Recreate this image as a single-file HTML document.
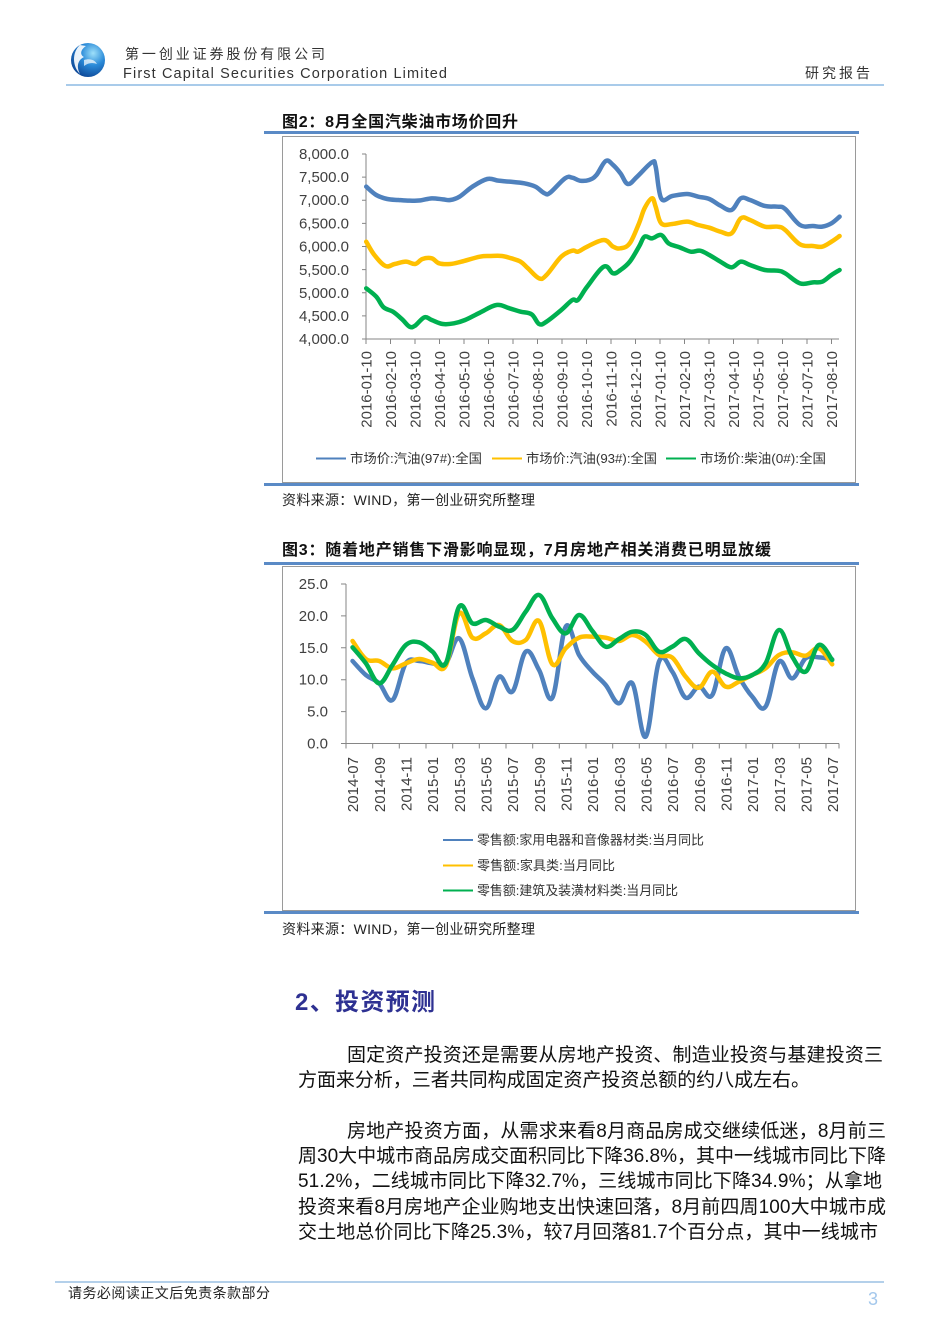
<!DOCTYPE html>
<html><head><meta charset="utf-8"><style>
html,body{margin:0;padding:0;background:#fff;}
svg{display:block;}
text{font-family:"Liberation Sans","Noto Sans CJK SC",sans-serif;}
</style></head><body>
<svg width="950" height="1344" viewBox="0 0 950 1344" xmlns="http://www.w3.org/2000/svg">
<defs>
<radialGradient id="lg" cx="0.65" cy="0.3" r="0.8">
<stop offset="0" stop-color="#9ee0fa"/><stop offset="0.45" stop-color="#2a8ad8"/><stop offset="1" stop-color="#0a3f8f"/>
</radialGradient>
</defs>
<!-- header -->
<circle cx="88" cy="60" r="17" fill="url(#lg)"/>
<path d="M80,45 C72,52 72,66 80,74 C76,66 78,60 84,57 C80,55 80,50 86,46 Z" fill="#fff" opacity="0.9"/>
<path d="M84,60 C90,58 95,60 97,64 C92,62 88,63 84,66 Z" fill="#fff" opacity="0.7"/>
<text x="125" y="59" font-size="14" fill="#333" textLength="200" lengthAdjust="spacing">第一创业证券股份有限公司</text>
<text x="123" y="78" font-size="14.5" fill="#333" textLength="324" lengthAdjust="spacing">First Capital Securities Corporation Limited</text>
<text x="805" y="78" font-size="14" fill="#333" textLength="65" lengthAdjust="spacing">研究报告</text>
<line x1="66" y1="85" x2="884" y2="85" stroke="#a9cbea" stroke-width="2"/>

<!-- chart 1 -->
<text x="282" y="127" font-size="16" font-weight="bold" fill="#111" textLength="236" lengthAdjust="spacing">图2：8月全国汽柴油市场价回升</text>
<line x1="264" y1="132.5" x2="859" y2="132.5" stroke="#5a8ac6" stroke-width="3"/>
<rect x="282.5" y="136.5" width="573" height="346" fill="none" stroke="#9a9a9a" stroke-width="1"/>
<line x1="264" y1="484.5" x2="859" y2="484.5" stroke="#5a8ac6" stroke-width="3"/>
<g font-size="15" fill="#404040" text-anchor="end">
<text x="349" y="344">4,000.0</text>
<text x="349" y="321">4,500.0</text>
<text x="349" y="298">5,000.0</text>
<text x="349" y="275">5,500.0</text>
<text x="349" y="251.5">6,000.0</text>
<text x="349" y="228.5">6,500.0</text>
<text x="349" y="205">7,000.0</text>
<text x="349" y="182">7,500.0</text>
<text x="349" y="159">8,000.0</text>
</g>
<g stroke="#868686" stroke-width="1" fill="none">
<path d="M366,154V339H839"/>
<path d="M362,339H366M362,315.9H366M362,292.75H366M362,269.6H366M362,246.5H366M362,223.4H366M362,200.25H366M362,177.1H366M362,154H366"/>
<path d="M366,339v5M390.5,339v5M415,339v5M439.5,339v5M464,339v5M488.5,339v5M513,339v5M537.5,339v5M562,339v5M586.5,339v5M611,339v5M635.5,339v5M660,339v5M684.5,339v5M709,339v5M733.5,339v5M758,339v5M782.5,339v5M807,339v5M831.5,339v5"/>
</g>
<g font-size="15" fill="#404040" text-anchor="end">
<text transform="translate(371.5,351) rotate(-90)">2016-01-10</text>
<text transform="translate(396,351) rotate(-90)">2016-02-10</text>
<text transform="translate(420.5,351) rotate(-90)">2016-03-10</text>
<text transform="translate(445,351) rotate(-90)">2016-04-10</text>
<text transform="translate(469.5,351) rotate(-90)">2016-05-10</text>
<text transform="translate(494,351) rotate(-90)">2016-06-10</text>
<text transform="translate(518.5,351) rotate(-90)">2016-07-10</text>
<text transform="translate(543,351) rotate(-90)">2016-08-10</text>
<text transform="translate(567.5,351) rotate(-90)">2016-09-10</text>
<text transform="translate(592,351) rotate(-90)">2016-10-10</text>
<text transform="translate(616.5,351) rotate(-90)">2016-11-10</text>
<text transform="translate(641,351) rotate(-90)">2016-12-10</text>
<text transform="translate(665.5,351) rotate(-90)">2017-01-10</text>
<text transform="translate(690,351) rotate(-90)">2017-02-10</text>
<text transform="translate(714.5,351) rotate(-90)">2017-03-10</text>
<text transform="translate(739,351) rotate(-90)">2017-04-10</text>
<text transform="translate(763.5,351) rotate(-90)">2017-05-10</text>
<text transform="translate(788,351) rotate(-90)">2017-06-10</text>
<text transform="translate(812.5,351) rotate(-90)">2017-07-10</text>
<text transform="translate(837,351) rotate(-90)">2017-08-10</text>
</g>
<g transform="translate(280,130) scale(0.3701,0.33333)" fill="none" stroke-linejoin="round" stroke-linecap="round">
<polyline class="s" vector-effect="non-scaling-stroke" stroke="#4f81bd" stroke-width="4.5" points="233,170 260,195 290,207 320,210 350,212 380,211 410,205 440,208 460,210 485,200 520,170 560,147 590,152 620,155 660,160 690,170 715,190 730,188 770,145 790,143 810,152 835,150 855,135 880,93 900,105 920,130 940,162 965,140 1005,97 1015,110 1030,205 1060,198 1100,192 1130,200 1160,207 1190,227 1220,240 1245,205 1270,210 1310,228 1345,230 1365,237 1405,285 1440,288 1465,290 1490,280 1512,260"/>
<polyline class="s" vector-effect="non-scaling-stroke" stroke="#ffc000" stroke-width="4.5" points="233,335 255,375 285,408 310,402 340,395 365,402 385,387 410,385 430,400 460,402 490,395 540,380 570,378 600,378 625,385 650,395 670,415 700,445 720,435 760,380 790,362 805,365 830,350 875,330 900,350 920,355 945,340 970,280 985,235 1005,205 1015,230 1030,280 1060,282 1100,275 1130,285 1160,293 1190,305 1220,310 1245,265 1270,270 1310,290 1345,290 1365,300 1405,343 1440,348 1465,350 1490,335 1512,318"/>
<polyline class="s" vector-effect="non-scaling-stroke" stroke="#00b050" stroke-width="4.5" points="233,475 260,500 280,532 305,545 330,568 350,590 365,587 390,562 410,570 440,582 470,580 500,570 540,548 585,525 620,535 650,545 680,553 700,582 720,575 760,540 790,510 805,510 830,470 875,410 900,430 920,420 945,395 970,350 985,320 1005,325 1030,315 1050,340 1080,352 1110,365 1135,362 1160,375 1190,395 1220,412 1245,395 1270,405 1310,420 1345,422 1365,430 1405,460 1440,457 1465,455 1490,435 1512,420"/>
</g>
<g font-size="13" fill="#333">
<line x1="316" y1="458.5" x2="346" y2="458.5" stroke="#4f81bd" stroke-width="2"/>
<text x="350" y="463" textLength="132" lengthAdjust="spacingAndGlyphs">市场价:汽油(97#):全国</text>
<line x1="492" y1="458.5" x2="522" y2="458.5" stroke="#ffc000" stroke-width="2"/>
<text x="526" y="463" textLength="131" lengthAdjust="spacingAndGlyphs">市场价:汽油(93#):全国</text>
<line x1="666" y1="458.5" x2="696" y2="458.5" stroke="#00b050" stroke-width="2"/>
<text x="700" y="463" textLength="126" lengthAdjust="spacingAndGlyphs">市场价:柴油(0#):全国</text>
</g>
<text x="282" y="505" font-size="14" fill="#222" textLength="253" lengthAdjust="spacing">资料来源：WIND，第一创业研究所整理</text>

<!-- chart 2 -->
<text x="282" y="555" font-size="16" font-weight="bold" fill="#111" textLength="489" lengthAdjust="spacing">图3：随着地产销售下滑影响显现，7月房地产相关消费已明显放缓</text>
<line x1="264" y1="563.5" x2="859" y2="563.5" stroke="#5a8ac6" stroke-width="3"/>
<rect x="282.5" y="566.5" width="573" height="344" fill="none" stroke="#9a9a9a" stroke-width="1"/>
<line x1="264" y1="912.5" x2="859" y2="912.5" stroke="#5a8ac6" stroke-width="3"/>
<g font-size="15" fill="#404040" text-anchor="end">
<text x="328" y="748.5">0.0</text>
<text x="328" y="716.6">5.0</text>
<text x="328" y="684.7">10.0</text>
<text x="328" y="652.8">15.0</text>
<text x="328" y="620.9">20.0</text>
<text x="328" y="589">25.0</text>
</g>
<g stroke="#868686" stroke-width="1" fill="none">
<path d="M346,584V743.5H839"/>
<path d="M341,743.5H346M341,711.6H346M341,679.7H346M341,647.8H346M341,615.9H346M341,584H346"/>
<path d="M346,743.5v5M372.7,743.5v5M399.3,743.5v5M426,743.5v5M452.7,743.5v5M479.3,743.5v5M506,743.5v5M532.7,743.5v5M559.3,743.5v5M586,743.5v5M612.7,743.5v5M639.3,743.5v5M666,743.5v5M692.7,743.5v5M719.3,743.5v5M746,743.5v5M772.7,743.5v5M799.3,743.5v5M826,743.5v5M839,743.5v5"/>
</g>
<g font-size="15" fill="#404040" text-anchor="end">
<text transform="translate(358.2,757) rotate(-90)">2014-07</text>
<text transform="translate(384.9,757) rotate(-90)">2014-09</text>
<text transform="translate(411.5,757) rotate(-90)">2014-11</text>
<text transform="translate(438.2,757) rotate(-90)">2015-01</text>
<text transform="translate(464.9,757) rotate(-90)">2015-03</text>
<text transform="translate(491.5,757) rotate(-90)">2015-05</text>
<text transform="translate(518.2,757) rotate(-90)">2015-07</text>
<text transform="translate(544.9,757) rotate(-90)">2015-09</text>
<text transform="translate(571.5,757) rotate(-90)">2015-11</text>
<text transform="translate(598.2,757) rotate(-90)">2016-01</text>
<text transform="translate(624.9,757) rotate(-90)">2016-03</text>
<text transform="translate(651.5,757) rotate(-90)">2016-05</text>
<text transform="translate(678.2,757) rotate(-90)">2016-07</text>
<text transform="translate(704.9,757) rotate(-90)">2016-09</text>
<text transform="translate(731.5,757) rotate(-90)">2016-11</text>
<text transform="translate(758.2,757) rotate(-90)">2017-01</text>
<text transform="translate(784.9,757) rotate(-90)">2017-03</text>
<text transform="translate(811.5,757) rotate(-90)">2017-05</text>
<text transform="translate(838.2,757) rotate(-90)">2017-07</text>
</g>
<g transform="translate(280,535) scale(0.3701,0.33333)" fill="none" stroke-linejoin="round" stroke-linecap="round">
<polyline class="s" vector-effect="non-scaling-stroke" stroke="#4f81bd" stroke-width="4.5" points="196,378 232,420 268,445 304,495 340,385 376,378 412,385 448,385 484,310 520,430 556,520 592,425 628,470 664,350 700,405 736,488 772,275 808,360 844,410 880,450 916,505 952,445 988,605 1024,380 1060,410 1096,488 1132,455 1168,480 1204,340 1240,425 1276,485 1312,515 1348,380 1384,430 1420,370 1456,367 1492,373"/>
<polyline class="s" vector-effect="non-scaling-stroke" stroke="#ffc000" stroke-width="4.5" points="196,318 232,372 268,378 304,400 340,385 376,372 412,383 448,392 484,235 520,308 556,295 592,270 628,318 664,315 700,258 736,388 772,340 808,308 844,305 880,308 916,318 952,300 988,320 1024,360 1060,368 1096,425 1132,458 1168,410 1204,455 1240,440 1276,420 1312,400 1348,360 1384,352 1420,362 1456,340 1492,388"/>
<polyline class="s" vector-effect="non-scaling-stroke" stroke="#00b050" stroke-width="4.5" points="196,337 232,385 268,445 304,390 340,330 376,322 412,350 448,385 484,215 520,265 556,255 592,275 628,285 664,230 700,180 736,250 772,295 808,240 844,288 880,335 916,312 952,290 988,300 1024,350 1060,335 1096,312 1132,355 1168,390 1204,415 1240,430 1276,420 1312,385 1348,285 1384,365 1420,410 1456,330 1492,375"/>
</g>
<g font-size="13" fill="#333">
<line x1="443" y1="840" x2="473" y2="840" stroke="#4f81bd" stroke-width="2"/>
<text x="477" y="844.5" textLength="227" lengthAdjust="spacingAndGlyphs">零售额:家用电器和音像器材类:当月同比</text>
<line x1="443" y1="865.5" x2="473" y2="865.5" stroke="#ffc000" stroke-width="2"/>
<text x="477" y="870" textLength="138" lengthAdjust="spacingAndGlyphs">零售额:家具类:当月同比</text>
<line x1="443" y1="890.5" x2="473" y2="890.5" stroke="#00b050" stroke-width="2"/>
<text x="477" y="895" textLength="201" lengthAdjust="spacingAndGlyphs">零售额:建筑及装潢材料类:当月同比</text>
</g>
<text x="282" y="934" font-size="14" fill="#222" textLength="253" lengthAdjust="spacing">资料来源：WIND，第一创业研究所整理</text>

<!-- section -->
<text x="295" y="1010" font-size="24" font-weight="bold" fill="#2e3192" textLength="140" lengthAdjust="spacing">2、投资预测</text>
<g font-size="19" fill="#111">
<text x="347" y="1061" textLength="536" lengthAdjust="spacing">固定资产投资还是需要从房地产投资、制造业投资与基建投资三</text>
<text x="298" y="1086" textLength="512" lengthAdjust="spacing">方面来分析，三者共同构成固定资产投资总额的约八成左右。</text>
<text x="347" y="1137" textLength="539" lengthAdjust="spacing">房地产投资方面，从需求来看8月商品房成交继续低迷，8月前三</text>
<text x="298" y="1162" textLength="588" lengthAdjust="spacing">周30大中城市商品房成交面积同比下降36.8%，其中一线城市同比下降</text>
<text x="298" y="1187" textLength="584" lengthAdjust="spacing">51.2%，二线城市同比下降32.7%，三线城市同比下降34.9%；从拿地</text>
<text x="298" y="1213" textLength="588" lengthAdjust="spacing">投资来看8月房地产企业购地支出快速回落，8月前四周100大中城市成</text>
<text x="298" y="1238" textLength="580" lengthAdjust="spacing">交土地总价同比下降25.3%，较7月回落81.7个百分点，其中一线城市</text>
</g>

<!-- footer -->
<line x1="55" y1="1282" x2="884" y2="1282" stroke="#b4d0ea" stroke-width="2"/>
<text x="68" y="1298" font-size="14" fill="#222" textLength="202" lengthAdjust="spacing">请务必阅读正文后免责条款部分</text>
<text x="868" y="1305" font-size="18" fill="#a4c8ec">3</text>
</svg>
<script>
(function(){
var ps=document.querySelectorAll('polyline.s');
for(var k=0;k<ps.length;k++){
var pl=ps[k];var raw=pl.getAttribute('points').trim().split(/\s+/);var p=[];
for(var i=0;i<raw.length;i++){var a=raw[i].split(',');p.push([+a[0],+a[1]]);}
var d='M'+p[0][0]+','+p[0][1];
for(var i=0;i<p.length-1;i++){
var p0=p[i-1]||p[i],p1=p[i],p2=p[i+1],p3=p[i+2]||p2;var t=0.18;
var c1x=p1[0]+(p2[0]-p0[0])*t,c1y=p1[1]+(p2[1]-p0[1])*t;
var c2x=p2[0]-(p3[0]-p1[0])*t,c2y=p2[1]-(p3[1]-p1[1])*t;
d+=' C'+c1x.toFixed(1)+','+c1y.toFixed(1)+' '+c2x.toFixed(1)+','+c2y.toFixed(1)+' '+p2[0]+','+p2[1];}
var path=document.createElementNS('http://www.w3.org/2000/svg','path');
path.setAttribute('d',d);
['stroke','stroke-width','vector-effect'].forEach(function(n){path.setAttribute(n,pl.getAttribute(n));});
pl.parentNode.replaceChild(path,pl);}
})();
</script>
</body></html>
